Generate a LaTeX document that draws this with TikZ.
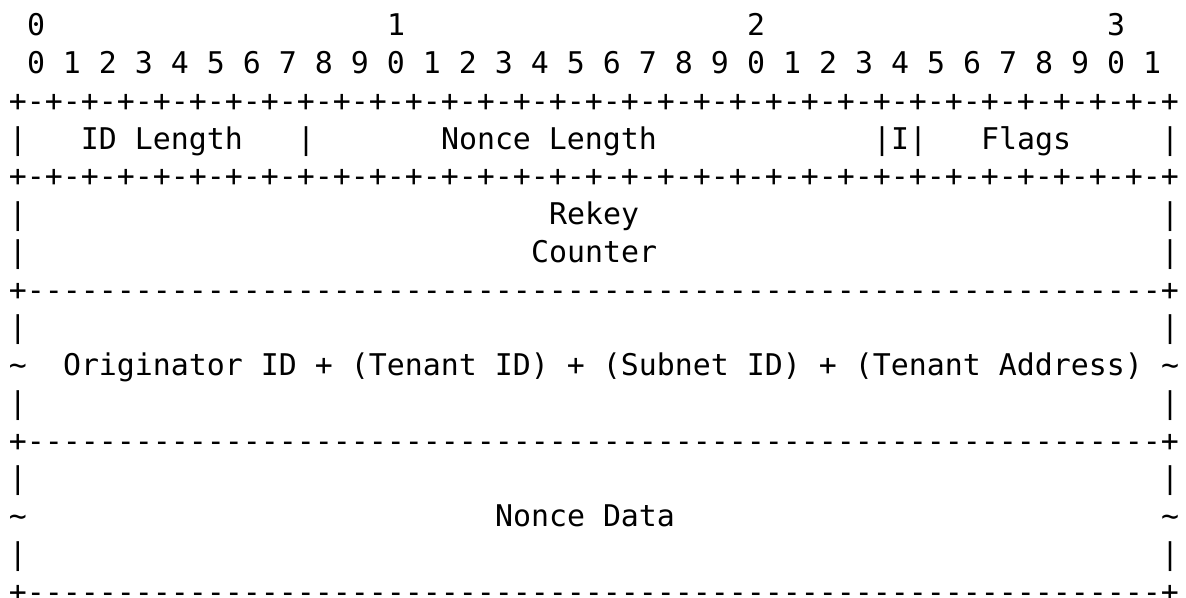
\documentclass[tikz,border=0pt]{standalone}
\usepackage{fontspec}
\setmonofont{DejaVu Sans Mono}
\ExplSyntaxOn
\NewDocumentCommand \rep { m m } { \prg_replicate:nn {#1} {#2} }
\ExplSyntaxOff
% one column = one character advance, one row = one text line
\tikzset{
  txt/.style={anchor=base west, inner sep=0pt, outer sep=0pt,
    font=\ttfamily\fontsize{14.95pt}{18.875pt}\selectfont, text=black}
}
% \seg{name}{column}{row}{text}
\newcommand\seg[4]{\node[txt] (#1) at ({0.5+#2},{-0.9536-(#3-1)}) {#4};}
\newcommand\bitrule{\rep{32}{+-}+}
\newcommand\fullrule{+\rep{63}{-}+}
\newcommand\tld{\textasciitilde}
\begin{document}
\begin{tikzpicture}[x=9pt,y=18.875pt]
\fill[white] (0,0) rectangle (65.889,-15.815);
\useasboundingbox (0,0) rectangle (65.889,-15.815);
% bit numbering
\seg{d0}{1}{1}{0}
\seg{d1}{21}{1}{1}
\seg{d2}{41}{1}{2}
\seg{d3}{61}{1}{3}
\seg{bits}{1}{2}{0 1 2 3 4 5 6 7 8 9 0 1 2 3 4 5 6 7 8 9 0 1 2 3 4 5 6 7 8 9 0 1}
% first word
\seg{r3}{0}{3}{\bitrule}
\seg{w1l}{0}{4}{|}
\seg{idlen}{4}{4}{ID Length}
\seg{w1a}{16}{4}{|}
\seg{noncelen}{24}{4}{Nonce Length}
\seg{ibit}{48}{4}{|I|}
\seg{flags}{54}{4}{Flags}
\seg{w1r}{64}{4}{|}
\seg{r5}{0}{5}{\bitrule}
% rekey counter
\seg{w2l}{0}{6}{|}
\seg{rekey}{30}{6}{Rekey}
\seg{w2r}{64}{6}{|}
\seg{w3l}{0}{7}{|}
\seg{counter}{29}{7}{Counter}
\seg{w3r}{64}{7}{|}
\seg{r8}{0}{8}{\fullrule}
% originator id
\seg{w4l}{0}{9}{|}
\seg{w4r}{64}{9}{|}
\seg{w5l}{0}{10}{\tld}
\seg{orig}{3}{10}{Originator ID + (Tenant ID) + (Subnet ID) + (Tenant Address)}
\seg{w5r}{64}{10}{\tld}
\seg{w6l}{0}{11}{|}
\seg{w6r}{64}{11}{|}
\seg{r12}{0}{12}{\fullrule}
% nonce data
\seg{w7l}{0}{13}{|}
\seg{w7r}{64}{13}{|}
\seg{w8l}{0}{14}{\tld}
\seg{nonce}{27}{14}{Nonce Data}
\seg{w8r}{64}{14}{\tld}
\seg{w9l}{0}{15}{|}
\seg{w9r}{64}{15}{|}
\seg{r16}{0}{16}{\fullrule}
\end{tikzpicture}
\end{document}
